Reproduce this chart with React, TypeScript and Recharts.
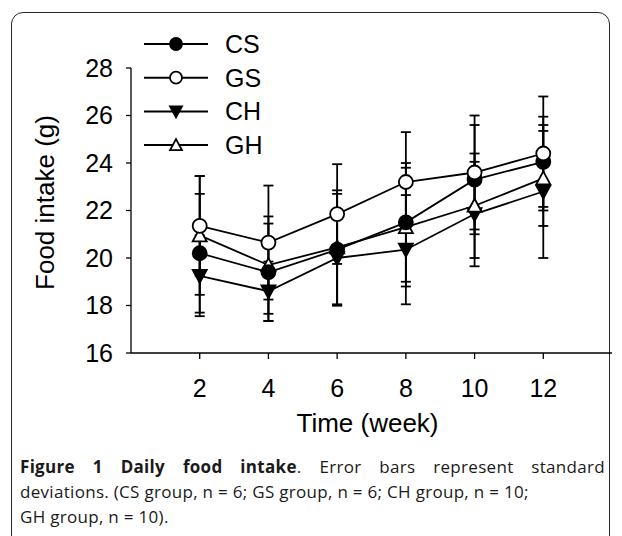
import React from 'react';
import { LineChart, Line, XAxis, YAxis, ErrorBar, Legend, Label } from 'recharts';

const weeks = [2, 4, 6, 8, 10, 12];
const csMean = [20.2, 19.4, 20.35, 21.5, 23.3, 24.05];
const gsMean = [21.35, 20.65, 21.85, 23.2, 23.6, 24.4];
const chMean = [19.25, 18.6, 20.0, 20.35, 21.85, 22.8];
const ghMean = [20.95, 19.7, 20.45, 21.3, 22.2, 23.35];
const csSd = [2.5, 2.05, 2.35, 2.5, 2.3, 1.9];
const gsSd = [2.1, 2.4, 2.1, 2.1, 2.4, 2.4];
const chSd = [1.7, 1.25, 2.0, 2.3, 2.2, 2.8];
const ghSd = [2.5, 2.05, 2.4, 2.5, 2.2, 2.0];
const xTicks = [2, 4, 6, 8, 10, 12];
const yTicks = [16, 18, 20, 22, 24, 26, 28];
const seriesNames = ['CS', 'GS', 'CH', 'GH'];

const data = weeks.map((w, i) => ({
  week: w,
  cs: csMean[i], gs: gsMean[i], ch: chMean[i], gh: ghMean[i],
  csErr: csSd[i], gsErr: gsSd[i], chErr: chSd[i], ghErr: ghSd[i],
}));

const FONT = 'Arial, "Liberation Sans", Helvetica, sans-serif';

type Kind = 'filledCircle' | 'openCircle' | 'downTri' | 'upTri';
const kinds: Kind[] = ['filledCircle', 'openCircle', 'downTri', 'upTri'];

function marker(kind: Kind, cx: number, cy: number, s: number, key?: any) {
  const sw = 1.8;
  if (kind === 'filledCircle') return <circle key={key} cx={cx} cy={cy} r={s} fill="#000" stroke="#000" strokeWidth={sw} />;
  if (kind === 'openCircle') return <circle key={key} cx={cx} cy={cy} r={s} fill="#fff" stroke="#000" strokeWidth={sw} />;
  if (kind === 'downTri') {
    const pts = `${cx - s},${cy - s * 0.85} ${cx + s},${cy - s * 0.85} ${cx},${cy + s}`;
    return <polygon key={key} points={pts} fill="#000" stroke="#000" strokeWidth={sw} strokeLinejoin="miter" />;
  }
  const pts = `${cx - s},${cy + s * 0.85} ${cx + s},${cy + s * 0.85} ${cx},${cy - s}`;
  return <polygon key={key} points={pts} fill="#fff" stroke="#000" strokeWidth={sw} strokeLinejoin="miter" />;
}

const makeDot = (kind: Kind) => (props: any) => {
  const { cx, cy, index } = props;
  if (cx == null || cy == null) return <g key={`d-${kind}-${index}`} />;
  return marker(kind, cx, cy, 7, `d-${kind}-${index}`);
};

const renderLegend = () => (
  <svg width={140} height={140} style={{ overflow: 'visible' }}>
    {seriesNames.map((n, i) => {
      const y = 18 + i * 33.7;
      return (
        <g key={n}>
          <line x1={8} x2={72} y1={y} y2={y} stroke="#000" strokeWidth={2} />
          {marker(kinds[i], 40, y, 6)}
          <text x={89} y={y} dy="0.36em" fontSize={25} fontFamily={FONT} fill="#000">{n}</text>
        </g>
      );
    })}
  </svg>
);

const YLabel = (props: any) => {
  const { viewBox } = props;
  const cy = viewBox.y + viewBox.height / 2 - 8;
  return (
    <text x={45} y={cy} transform={`rotate(-90, 45, ${cy})`} textAnchor="middle" dominantBaseline="central" fontSize={26} fontFamily={FONT} fill="#000">
      Food intake (g)
    </text>
  );
};

const XLabel = (props: any) => {
  const { viewBox } = props;
  const cx = viewBox.x + viewBox.width / 2 - 4;
  return (
    <text x={cx} y={423} textAnchor="middle" dominantBaseline="central" fontSize={26} fontFamily={FONT} fill="#000">
      Time (week)
    </text>
  );
};

export default function App() {
  return (
    <div style={{ position: 'absolute', left: 0, top: 0, width: 622, height: 536, background: '#fff', overflow: 'hidden' }}>
      <div style={{ position: 'absolute', left: 11, top: 12, width: 599, height: 540, border: '1.5px solid #2a2a2a', borderRadius: 12, boxSizing: 'border-box' }} />
      <div style={{ position: 'absolute', left: 0, top: 0 }}>
        <LineChart width={622} height={440} data={data} margin={{ top: 68, right: 10, left: 0, bottom: 0 }}>
          <XAxis
            dataKey="week"
            type="number"
            domain={[0, 14]}
            ticks={xTicks}
            height={87}
            tickSize={6}
            tickMargin={20}
            stroke="#000"
            strokeWidth={1.3}
            tick={{ fill: '#000', fontSize: 25, fontFamily: FONT }}
          >
            <Label content={XLabel} />
          </XAxis>
          <YAxis
            type="number"
            domain={[16, 28]}
            ticks={yTicks}
            width={131}
            tickSize={5}
            tickMargin={13}
            stroke="#000"
            strokeWidth={1.3}
            tick={{ fill: '#000', fontSize: 25, fontFamily: FONT }}
          >
            <Label content={YLabel} />
          </YAxis>
          <Legend
            layout="horizontal"
            verticalAlign="middle"
            align="center"
            content={renderLegend}
            wrapperStyle={{ position: 'absolute', left: 136, top: 26, width: 140, height: 140 }}
          />
          <Line dataKey="ch" stroke="#000" strokeWidth={1.8} dot={makeDot('downTri')} activeDot={false} isAnimationActive={false} legendType="none">
            <ErrorBar dataKey="chErr" width={5} stroke="#000" strokeWidth={1.8} direction="y" />
          </Line>
          <Line dataKey="gh" stroke="#000" strokeWidth={1.8} dot={makeDot('upTri')} activeDot={false} isAnimationActive={false} legendType="none">
            <ErrorBar dataKey="ghErr" width={5} stroke="#000" strokeWidth={1.8} direction="y" />
          </Line>
          <Line dataKey="cs" stroke="#000" strokeWidth={1.8} dot={makeDot('filledCircle')} activeDot={false} isAnimationActive={false} legendType="none">
            <ErrorBar dataKey="csErr" width={5} stroke="#000" strokeWidth={1.8} direction="y" />
          </Line>
          <Line dataKey="gs" stroke="#000" strokeWidth={1.8} dot={makeDot('openCircle')} activeDot={false} isAnimationActive={false} legendType="none">
            <ErrorBar dataKey="gsErr" width={5} stroke="#000" strokeWidth={1.8} direction="y" />
          </Line>
        </LineChart>
      </div>
      <div style={{ position: 'absolute', left: 20, top: 454, width: 585, fontFamily: '"Open Sans", sans-serif', fontSize: 17, letterSpacing: '0.3px', lineHeight: '25px', color: '#1a1a1a' }}>
        <div style={{ textAlign: 'justify', textAlignLast: 'justify' }}>
          <b>Figure 1 Daily food intake</b>. Error bars represent standard
        </div>
        <div>deviations. (CS group, n = 6; GS group, n = 6; CH group, n = 10;</div>
        <div>GH group, n = 10).</div>
      </div>
    </div>
  );
}
